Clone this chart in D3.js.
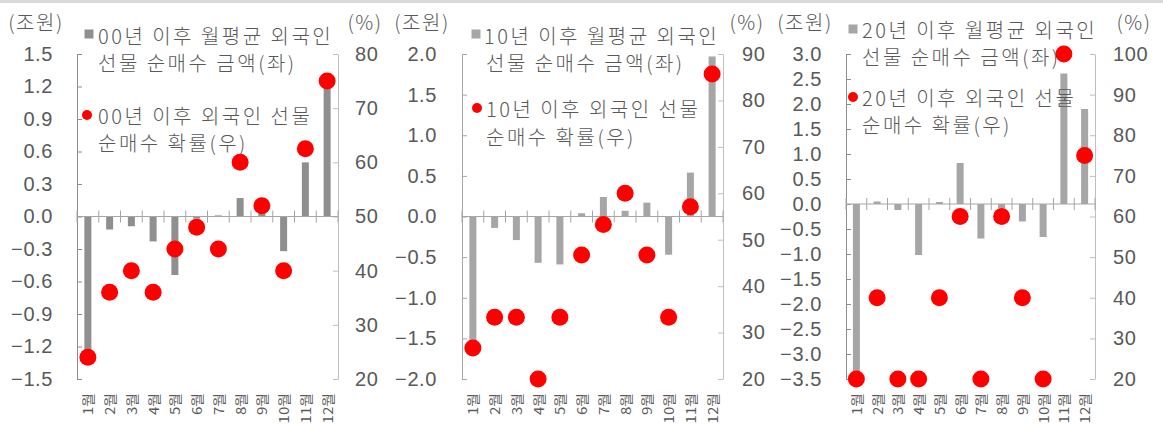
<!DOCTYPE html>
<html><head><meta charset="utf-8">
<script src="https://cdn.jsdelivr.net/npm/d3@7"></script>
<style>
html,body{margin:0;padding:0;background:#fff;}
svg{display:block;font-family:"Noto Sans CJK KR","Noto Sans",sans-serif;font-weight:300;}
</style></head>
<body><svg id="c" width="1163" height="435"></svg>
<script>
// ---- data ----
const months = ["1월","2월","3월","4월","5월","6월","7월","8월","9월","10월","11월","12월"];
const amt00 = [-1.27,-0.12,-0.09,-0.23,-0.54,-0.02,0.01,0.17,0.05,-0.32,0.50,1.25];
const prob00 = [24,36,40,36,44,48,44,60,52,40,62.5,75];
const amt10 = [-1.60,-0.14,-0.29,-0.57,-0.59,0.04,0.24,0.07,0.17,-0.47,0.54,1.97];
const prob10 = [26.7,33.3,33.3,20,33.3,46.7,53.3,60,46.7,33.3,57.1,85.7];
const amt20 = [-3.40,0.05,-0.12,-1.02,0.04,0.82,-0.69,-0.08,-0.35,-0.66,2.61,1.90];
const prob20 = [20,40,20,20,40,60,20,60,40,20,100,75];
const leftTicks00 = [-1.5,-1.2,-0.9,-0.6,-0.3,0,0.3,0.6,0.9,1.2,1.5];
const leftTicks10 = [-2,-1.5,-1,-0.5,0,0.5,1,1.5,2];
const leftTicks20 = [-3.5,-3,-2.5,-2,-1.5,-1,-0.5,0,0.5,1,1.5,2,2.5,3];
const rightTicks00 = [20,30,40,50,60,70,80];
const rightTicks10 = [20,30,40,50,60,70,80,90];
const rightTicks20 = [20,30,40,50,60,70,80,90,100];
const legendBar = ["00년 이후 월평균 외국인","10년 이후 월평균 외국인","20년 이후 월평균 외국인"];
const legendBar2 = "선물 순매수 금액(좌)";
const legendDot = ["00년 이후 외국인 선물","10년 이후 외국인 선물","20년 이후 외국인 선물"];
const legendDot2 = "순매수 확률(우)";
const unitLeft = "(조원)", unitRight = "(%)";

// ---- layout ----
const svg = d3.select("#c");
const TXT = "#595959";
const NUMFONT = '"Liberation Sans", Arial, sans-serif';
svg.append("rect").attr("x",0).attr("y",0).attr("width",1163).attr("height",3).attr("fill","#d9d9d9");

const panels = [
  {x0:77,x1:338,amt:amt00,prob:prob00,lt:leftTicks00,rt:rightTicks00,barC:"#8f8f8f",lax:"#8c8c8c",
   lpad:24,rpad:17,uL:36,uR:365,lg:{sq:[89,34],t1:[98,35],t2:[98,62],dot:[87,115],t3:[98,115],t4:[98,142]},i:0},
  {x0:462,x1:723,amt:amt10,prob:prob10,lt:leftTicks10,rt:rightTicks10,barC:"#a6a6a6",lax:"#a6a6a6",
   lpad:25,rpad:19,uL:422,uR:747,lg:{sq:[476,34],t1:[484,35],t2:[486,62],dot:[477,108],t3:[486,108],t4:[486,136]},i:1},
  {x0:846,x1:1095,amt:amt20,prob:prob20,lt:leftTicks20,rt:rightTicks20,barC:"#a6a6a6",lax:"#8c8c8c",
   lpad:24,rpad:18,uL:805,uR:1134,lg:{sq:[853,29],t1:[862,29],t2:[862,56],dot:[853,97],t3:[862,97],t4:[862,124]},i:2}
];
const yTop = 54, yBot = 379;

panels.forEach(p => {
  const g = svg.append("g");
  const x = d3.scaleBand().domain(months).range([p.x0,p.x1]);
  const yL = d3.scaleLinear().domain([d3.min(p.lt), d3.max(p.lt)]).range([yBot,yTop]);
  const yR = d3.scaleLinear().domain([d3.min(p.rt), d3.max(p.rt)]).range([yBot,yTop]);
  const bw = 7;

  // left axis
  const ga = g.append("g").attr("transform",`translate(${p.x0},0)`)
    .call(d3.axisLeft(yL).tickValues(p.lt).tickSizeInner(-5).tickSizeOuter(0).tickPadding(p.lpad).tickFormat(d3.format(".1f")));
  ga.attr("font-family",NUMFONT).attr("font-size",null);
  ga.selectAll("path,line").attr("stroke",p.lax);
  ga.selectAll("text").attr("fill",TXT).style("font-size","20px").style("letter-spacing","0.6px");
  // right axis
  const gr = g.append("g").attr("transform",`translate(${p.x1},0)`)
    .call(d3.axisRight(yR).tickValues(p.rt).tickSizeInner(-5).tickSizeOuter(0).tickPadding(p.rpad).tickFormat(d3.format("d")));
  gr.attr("font-family",NUMFONT).attr("font-size",null);
  gr.selectAll("path,line").attr("stroke","#bfbfbf");
  gr.selectAll("text").attr("fill",TXT).style("font-size","20px").style("letter-spacing","0.6px");

  // bars
  g.selectAll("rect.bar").data(p.amt).enter().append("rect")
    .attr("x",(d,i)=>x(months[i])+x.bandwidth()/2-bw/2)
    .attr("width",bw)
    .attr("y",d=>Math.min(yL(d),yL(0)))
    .attr("height",d=>Math.abs(yL(d)-yL(0)))
    .attr("fill",p.barC);

  // category axis at zero
  const y0 = yL(0);
  g.append("line").attr("x1",p.x0).attr("x2",p.x1).attr("y1",y0).attr("y2",y0).attr("stroke","#a6a6a6");
  const bounds = months.map(m=>x(m)).concat([p.x1]);
  g.selectAll("line.ct").data(bounds).enter().append("line")
    .attr("x1",d=>d).attr("x2",d=>d).attr("y1",y0-6).attr("y2",y0+6).attr("stroke","#a6a6a6");

  // month labels
  g.selectAll("text.m").data(months).enter().append("text")
    .attr("transform",d=>`translate(${x(d)+x.bandwidth()/2},393) rotate(-90) scale(1,0.85)`)
    .attr("text-anchor","end").attr("dominant-baseline","central")
    .attr("fill",TXT).style("font-size","15px").style("font-weight","400").text(d=>d);

  // dots
  g.selectAll("circle.d").data(p.prob).enter().append("circle")
    .attr("cx",(d,i)=>x(months[i])+x.bandwidth()/2).attr("cy",d=>yR(d)).attr("r",8.5).attr("fill","#ff0000");

  // unit labels
  const ut = (xx,s)=>g.append("text").attr("x",xx).attr("y",21).attr("text-anchor","middle").attr("dominant-baseline","central")
    .attr("fill",TXT).style("font-size","20px").style("letter-spacing","1.5px").text(s);
  ut(p.uL,unitLeft); ut(p.uR,unitRight);

  // legend
  const L = p.lg;
  g.append("rect").attr("x",L.sq[0]-4.5).attr("y",L.sq[1]-4.5).attr("width",9).attr("height",9).attr("fill",p.barC);
  g.append("circle").attr("cx",L.dot[0]).attr("cy",L.dot[1]).attr("r",5).attr("fill","#ff0000");
  const lt = (pos,s)=>g.append("text").attr("x",pos[0]).attr("y",pos[1]).attr("dominant-baseline","central")
    .attr("fill",TXT).style("font-size","20px").style("letter-spacing","2.5px").text(s);
  lt(L.t1,legendBar[p.i]); lt(L.t2,legendBar2); lt(L.t3,legendDot[p.i]); lt(L.t4,legendDot2);
});
</script></body></html>
